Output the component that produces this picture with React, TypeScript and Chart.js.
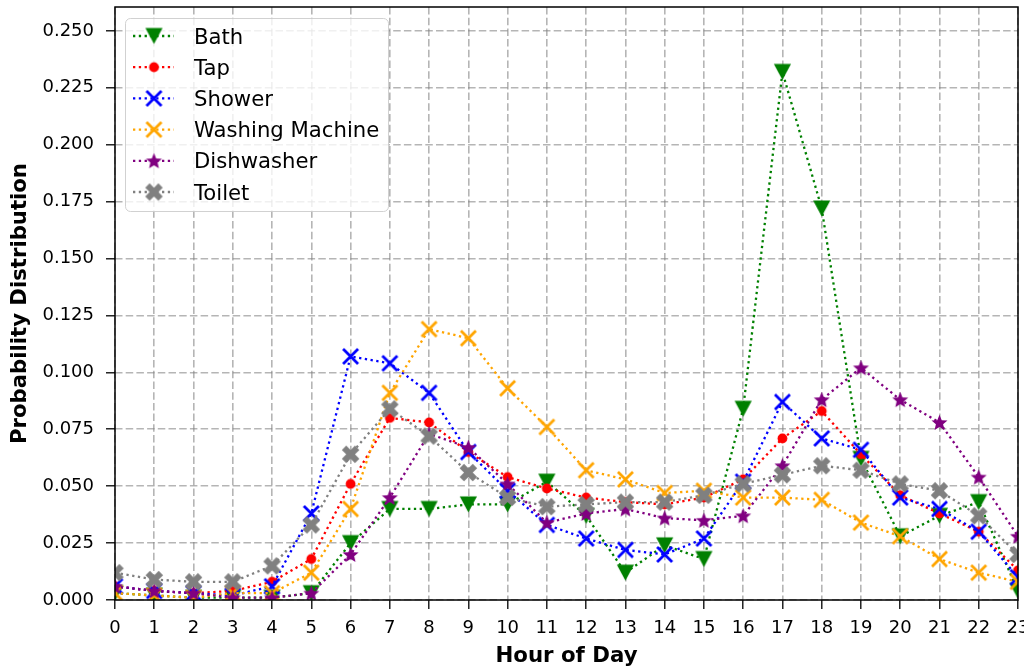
import React, { useEffect, useRef } from 'react';
import { Chart, registerables } from 'chart.js';

Chart.register(...registerables);

// Hour of day (x axis)
const hours = [0, 1, 2, 3, 4, 5, 6, 7, 8, 9, 10, 11, 12, 13, 14, 15, 16, 17, 18, 19, 20, 21, 22, 23];

// Probability distribution per appliance
const bath = [0.003, 0.002, 0.001, 0.001, 0.001, 0.003, 0.025, 0.040, 0.040, 0.042, 0.042, 0.052, 0.037, 0.012, 0.024, 0.018, 0.084, 0.232, 0.172, 0.062, 0.028, 0.037, 0.043, 0.004];
const tap = [0.006, 0.004, 0.003, 0.004, 0.008, 0.018, 0.051, 0.080, 0.078, 0.065, 0.054, 0.049, 0.045, 0.043, 0.042, 0.045, 0.053, 0.071, 0.083, 0.064, 0.046, 0.038, 0.030, 0.013];
const shower = [0.006, 0.004, 0.003, 0.002, 0.006, 0.038, 0.107, 0.104, 0.091, 0.065, 0.048, 0.033, 0.027, 0.022, 0.020, 0.027, 0.052, 0.087, 0.071, 0.066, 0.045, 0.040, 0.030, 0.010];
const washingMachine = [0.003, 0.002, 0.001, 0.003, 0.003, 0.012, 0.040, 0.091, 0.119, 0.115, 0.093, 0.076, 0.057, 0.053, 0.047, 0.048, 0.045, 0.045, 0.044, 0.034, 0.028, 0.018, 0.012, 0.008];
const dishwasher = [0.006, 0.004, 0.003, 0.001, 0.001, 0.003, 0.020, 0.045, 0.073, 0.067, 0.051, 0.034, 0.038, 0.040, 0.036, 0.035, 0.037, 0.059, 0.088, 0.102, 0.088, 0.078, 0.054, 0.028];
const toilet = [0.012, 0.009, 0.008, 0.008, 0.015, 0.033, 0.064, 0.084, 0.072, 0.056, 0.045, 0.041, 0.042, 0.043, 0.043, 0.046, 0.051, 0.055, 0.059, 0.057, 0.051, 0.048, 0.037, 0.020];

const seriesNames = ['Bath', 'Tap', 'Shower', 'Washing Machine', 'Dishwasher', 'Toilet'];
const seriesValues = [bath, tap, shower, washingMachine, dishwasher, toilet];
const seriesColors = ['#008000', '#ff0000', '#0000ff', '#ffa500', '#800080', '#808080'];
const seriesMarkers = ['triangleDown', 'circle', 'cross', 'cross', 'star', 'filledX'];

const yTickStep = 0.025;
const yMax = 0.2605;

const FONT = "'DejaVu Sans', sans-serif";

function makeMarker(kind: string, color: string): HTMLCanvasElement {
  const size = 21;
  const c = document.createElement('canvas');
  c.width = size;
  c.height = size;
  const ctx = c.getContext('2d') as CanvasRenderingContext2D;
  const m = size / 2;
  ctx.fillStyle = color;
  ctx.strokeStyle = color;
  if (kind === 'triangleDown') {
    const h = 8.6;
    ctx.beginPath();
    ctx.moveTo(m - h, m - h + 0.5);
    ctx.lineTo(m + h, m - h + 0.5);
    ctx.lineTo(m, m + h - 0.5);
    ctx.closePath();
    ctx.fill();
  } else if (kind === 'circle') {
    ctx.beginPath();
    ctx.arc(m, m, 4.9, 0, Math.PI * 2);
    ctx.fill();
  } else if (kind === 'cross') {
    const h = 7.5;
    ctx.lineWidth = 2.8;
    ctx.lineCap = 'butt';
    ctx.beginPath();
    ctx.moveTo(m - h, m - h);
    ctx.lineTo(m + h, m + h);
    ctx.moveTo(m + h, m - h);
    ctx.lineTo(m - h, m + h);
    ctx.stroke();
  } else if (kind === 'star') {
    const ro = 8.4;
    const ri = ro * 0.45;
    ctx.beginPath();
    for (let i = 0; i < 10; i++) {
      const r = i % 2 === 0 ? ro : ri;
      const a = -Math.PI / 2 + (i * Math.PI) / 5;
      const px = m + r * Math.cos(a);
      const py = m + 0.7 + r * Math.sin(a);
      if (i === 0) ctx.moveTo(px, py);
      else ctx.lineTo(px, py);
    }
    ctx.closePath();
    ctx.fill();
  } else if (kind === 'filledX') {
    const s = 17.5;
    const o = m - s / 2;
    const pts = [
      [0.25, 0], [0.5, 0.25], [0.75, 0], [1, 0.25], [0.75, 0.5], [1, 0.75],
      [0.75, 1], [0.5, 0.75], [0.25, 1], [0, 0.75], [0.25, 0.5], [0, 0.25],
    ];
    ctx.beginPath();
    pts.forEach(([px, py], i) => {
      const X = o + px * s;
      const Y = o + py * s;
      if (i === 0) ctx.moveTo(X, Y);
      else ctx.lineTo(X, Y);
    });
    ctx.closePath();
    ctx.fill();
  }
  return c;
}

const LINE_DASH = [2.3, 3.5];
const LINE_WIDTH = 2.3;

export default function App() {
  const canvasRef = useRef<HTMLCanvasElement | null>(null);

  useEffect(() => {
    const canvas = canvasRef.current;
    if (!canvas) return;

    const markers = seriesMarkers.map((k, i) => makeMarker(k, seriesColors[i]));

    const datasets = seriesNames.map((name, i) => ({
      label: name,
      data: hours.map((h, j) => ({ x: h, y: seriesValues[i][j] })),
      borderColor: seriesColors[i],
      backgroundColor: seriesColors[i],
      borderWidth: LINE_WIDTH,
      borderDash: LINE_DASH,
      borderCapStyle: 'butt' as const,
      pointStyle: markers[i],
      pointRadius: 8,
      pointHoverRadius: 8,
      tension: 0,
      fill: false,
      clip: 0,
      order: seriesNames.length - i,
    }));

    // Axes frame drawn on all four sides
    const framePlugin = {
      id: 'frame',
      afterDatasetsDraw(chart: any) {
        const { ctx, chartArea } = chart;
        ctx.save();
        ctx.strokeStyle = '#000';
        ctx.lineWidth = 1.5;
        ctx.setLineDash([]);
        ctx.strokeRect(chartArea.left, chartArea.top, chartArea.right - chartArea.left, chartArea.bottom - chartArea.top);
        ctx.restore();
      },
    };

    // Legend box with dotted line samples and markers
    const legendPlugin = {
      id: 'lineLegend',
      afterDraw(chart: any) {
        const ctx: CanvasRenderingContext2D = chart.ctx;
        const bx = 125.5, by = 18.5, bw = 263, bh = 193, r = 5;
        ctx.save();
        ctx.beginPath();
        ctx.moveTo(bx + r, by);
        ctx.lineTo(bx + bw - r, by);
        ctx.arcTo(bx + bw, by, bx + bw, by + r, r);
        ctx.lineTo(bx + bw, by + bh - r);
        ctx.arcTo(bx + bw, by + bh, bx + bw - r, by + bh, r);
        ctx.lineTo(bx + r, by + bh);
        ctx.arcTo(bx, by + bh, bx, by + bh - r, r);
        ctx.lineTo(bx, by + r);
        ctx.arcTo(bx, by, bx + r, by, r);
        ctx.closePath();
        ctx.fillStyle = 'rgba(255,255,255,0.8)';
        ctx.fill();
        ctx.strokeStyle = 'rgba(204,204,204,0.9)';
        ctx.lineWidth = 1;
        ctx.stroke();

        seriesNames.forEach((name, i) => {
          const cy = 36 + i * 31.2;
          ctx.strokeStyle = seriesColors[i];
          ctx.lineWidth = LINE_WIDTH;
          ctx.setLineDash(LINE_DASH);
          ctx.beginPath();
          ctx.moveTo(133, cy);
          ctx.lineTo(174, cy);
          ctx.stroke();
          ctx.setLineDash([]);
          const mk = markers[i];
          ctx.drawImage(mk, 154 - mk.width / 2, cy - mk.height / 2);
          ctx.fillStyle = '#000';
          ctx.font = `21.2px ${FONT}`;
          ctx.textBaseline = 'alphabetic';
          ctx.textAlign = 'left';
          ctx.fillText(name, 194, cy + 7.6);
        });
        ctx.restore();
      },
    };

    const gridColor = 'rgba(128,128,128,0.58)';

    const chart = new Chart(canvas, {
      type: 'line',
      data: { datasets },
      plugins: [framePlugin, legendPlugin],
      options: {
        responsive: false,
        animation: false,
        devicePixelRatio: 1,
        layout: { autoPadding: false, padding: { top: 7, right: 6, bottom: 0, left: 0 } },
        plugins: {
          legend: { display: false },
          tooltip: { enabled: false },
        },
        scales: {
          x: {
            type: 'linear',
            min: 0,
            max: 23,
            ticks: {
              stepSize: 1,
              color: '#000',
              font: { family: FONT, size: 18 },
              padding: 9,
              maxRotation: 0,
              autoSkip: false,
              callback: (v: any) => String(v),
            },
            grid: {
              color: gridColor,
              lineWidth: 1.6,
              drawTicks: true,
              tickLength: 9,
              tickColor: '#000',
              tickWidth: 1.3,
              tickBorderDash: [],
            },
            border: { display: false, dash: [7.5, 3.2] },
            title: {
              display: true,
              text: 'Hour of Day',
              color: '#000',
              font: { family: FONT, size: 21.3, weight: 'bold' },
              padding: { top: 0, bottom: 2 },
            },
            afterFit: (scale: any) => {
              scale.height = 71;
              scale.paddingLeft = 0;
              scale.paddingRight = 0;
            },
          },
          y: {
            type: 'linear',
            min: 0,
            max: yMax,
            afterBuildTicks: (scale: any) => {
              scale.ticks = scale.ticks.filter((t: any) => Math.abs(t.value / yTickStep - Math.round(t.value / yTickStep)) < 1e-6);
            },
            ticks: {
              stepSize: yTickStep,
              color: '#000',
              font: { family: FONT, size: 18 },
              padding: 12,
              callback: (v: any) => Number(v).toFixed(3),
            },
            grid: {
              color: gridColor,
              lineWidth: 1.6,
              drawTicks: true,
              tickLength: 9,
              tickColor: '#000',
              tickWidth: 1.3,
              tickBorderDash: [],
            },
            border: { display: false, dash: [7.5, 3.2] },
            title: {
              display: true,
              text: 'Probability Distribution',
              color: '#000',
              font: { family: FONT, size: 21.2, weight: 'bold' },
              padding: { top: 8, bottom: 0 },
            },
            afterFit: (scale: any) => {
              scale.width = 115;
              scale.paddingTop = 0;
              scale.paddingBottom = 0;
            },
          },
        },
      } as any,
    });

    return () => {
      chart.destroy();
    };
  }, []);

  return (
    <div style={{ position: 'absolute', left: 0, top: 0, width: 1024, height: 671, background: '#fff' }}>
      <canvas ref={canvasRef} width={1024} height={671} style={{ display: 'block' }} />
    </div>
  );
}
